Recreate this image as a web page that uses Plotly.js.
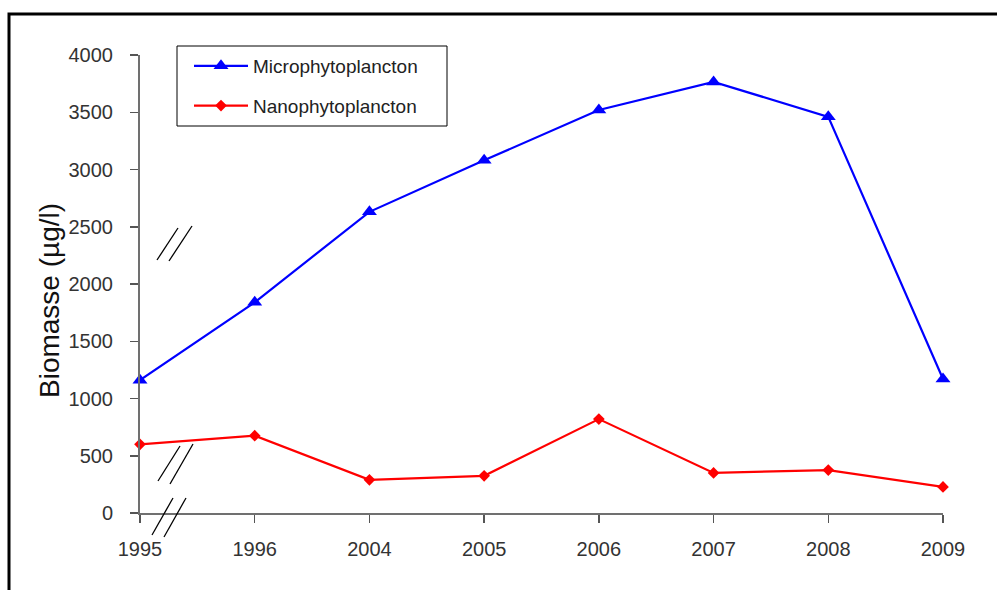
<!DOCTYPE html>
<html><head><meta charset="utf-8">
<script src="https://cdn.plot.ly/plotly-3.0.1.min.js"></script>
<style>html,body{margin:0;padding:0;background:#fff;}#chart{width:997px;height:590px;}</style>
</head><body><div id="chart"></div>
<script>
const years = ['1995','1996','2004','2005','2006','2007','2008','2009'];
const micro = [1160, 1840, 2630, 3080, 3520, 3765, 3460, 1170];
const nano = [600, 675, 290, 325, 820, 350, 375, 228];
const yTicks = [0,500,1000,1500,2000,2500,3000,3500,4000];
const yTitle = 'Biomasse (µg/l)';

const traces = [
  {x: years, y: micro, name: 'Microphytoplancton', legendgroup: 'a', type: 'scatter', mode: 'lines+markers',
   line: {color: '#0000ff', width: 2.2}, marker: {symbol: 'triangle-up', size: 13, color: '#0000ff'}, cliponaxis: false},
  {x: years, y: nano, name: 'Nanophytoplancton', legendgroup: 'b', type: 'scatter', mode: 'lines+markers',
   line: {color: '#ff0000', width: 2.2}, marker: {symbol: 'diamond', size: 9, color: '#ff0000'}, cliponaxis: false}
];

function px2x(p){ return (p-140)/803; }
function px2y(p){ return (513-p)/458; }
function brk(xa,ya,xb,yb){
  return {type:'line', xref:'paper', yref:'paper', x0:px2x(xa), y0:px2y(ya), x1:px2x(xb), y1:px2y(yb), line:{color:'#000', width:1.3}};
}

const layout = {
  width: 997, height: 590,
  margin: {l: 140, r: 54, t: 55, b: 77},
  paper_bgcolor: '#fff', plot_bgcolor: '#fff',
  font: {family: 'Liberation Sans, Arial, sans-serif', color: '#333'},
  showlegend: true,
  legend: {x: px2x(189), y: px2y(47), xanchor: 'left', yanchor: 'top',
    borderwidth: 0, bgcolor: 'rgba(0,0,0,0)', traceorder: 'grouped',
    font: {size: 19, color: '#222'}, tracegroupgap: 12, itemwidth: 54},
  xaxis: {type: 'category', range: [0, 7], showgrid: false, zeroline: false,
    showline: true, linecolor: '#707070', linewidth: 2,
    ticks: 'outside', ticklen: 8, tickcolor: '#555', tickwidth: 1.5,
    tickfont: {size: 20, color: '#333'}, ticklabelstandoff: 9, fixedrange: true},
  yaxis: {range: [0, 4000], tickvals: yTicks, showgrid: false, zeroline: false,
    showline: true, linecolor: '#707070', linewidth: 2,
    ticks: 'outside', ticklen: 8, tickcolor: '#555', tickwidth: 1.5,
    tickfont: {size: 20, color: '#333'}, ticklabelstandoff: 13},
  annotations: [
    {text: yTitle, xref: 'paper', yref: 'paper', x: px2x(49), y: px2y(301), xanchor: 'center', yanchor: 'middle',
     textangle: -90, showarrow: false, font: {size: 28, color: '#111'}}
  ],
  shapes: [
    {type:'rect', xref:'paper', yref:'paper', x0:px2x(9), x1:px2x(1010), y0:px2y(600), y1:px2y(14), line:{color:'#000', width:3}, fillcolor:'rgba(0,0,0,0)', layer:'below'},
    {type:'rect', xref:'paper', yref:'paper', x0:px2x(177), x1:px2x(447), y0:px2y(126), y1:px2y(46), line:{color:'#000', width:1}, fillcolor:'#fff', layer:'below'},
    brk(157,260,178,228), brk(169,261,192,226),
    brk(158,481,180,446), brk(170,484,193,444),
    brk(152,535,173,498), brk(164,537,186,498)
  ]
};
Plotly.newPlot('chart', traces, layout, {displayModeBar: false, staticPlot: true});
</script></body></html>
